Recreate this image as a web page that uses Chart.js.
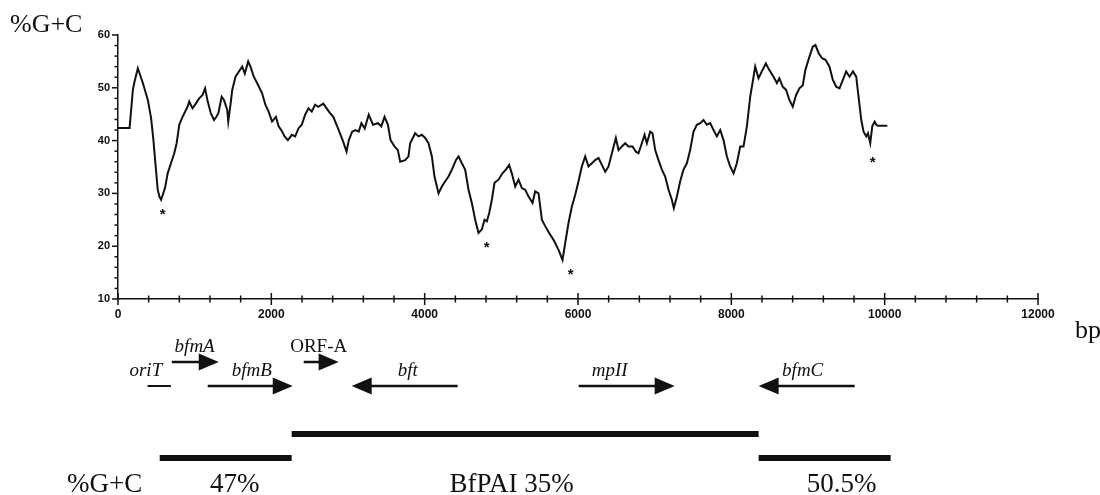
<!DOCTYPE html>
<html>
<head>
<meta charset="utf-8">
<script src="https://cdn.jsdelivr.net/npm/chart.js@4.4.1/dist/chart.umd.min.js"></script>
<style>
	html, body { margin: 0; padding: 0; background: #fff; }
	#wrap { position: relative; width: 1100px; height: 495px; }
</style>
</head>
<body>
<div id="wrap"><canvas id="gcPlot" width="1100" height="495"></canvas></div>
<script>
// %G+C along the sequence (bp).
var positions = [
	0, 151, 194, 216, 259, 324, 389, 432, 462, 488, 518, 540, 562, 583, 613, 648, 691, 734, 765, 799,
	842, 907, 929, 972, 1015, 1058, 1102, 1136, 1166, 1210, 1253, 1283, 1309, 1352, 1382, 1425, 1438, 1469, 1490, 1533,
	1577, 1620, 1654, 1698, 1728, 1771, 1814, 1879, 1922, 1965, 2009, 2060, 2095, 2130, 2173, 2216, 2268, 2311, 2354, 2397,
	2441, 2484, 2527, 2570, 2613, 2678, 2721, 2765, 2808, 2851, 2894, 2937, 2981, 3011, 3054, 3097, 3140, 3175, 3218, 3270,
	3326, 3391, 3434, 3477, 3521, 3555, 3607, 3650, 3681, 3746, 3789, 3811, 3876, 3920, 3963, 4007, 4050, 4094, 4128, 4181,
	4224, 4268, 4311, 4355, 4407, 4442, 4485, 4528, 4572, 4615, 4659, 4702, 4746, 4781, 4811, 4842, 4876, 4911, 4963, 5015,
	5059, 5102, 5137, 5181, 5224, 5268, 5311, 5355, 5407, 5442, 5485, 5529, 5572, 5624, 5681, 5746, 5798, 5833, 5876, 5920,
	5963, 6007, 6050, 6094, 6137, 6181, 6224, 6268, 6311, 6355, 6398, 6442, 6494, 6529, 6572, 6616, 6659, 6711, 6755, 6789,
	6833, 6868, 6898, 6942, 6972, 7007, 7050, 7094, 7137, 7181, 7224, 7250, 7290, 7333, 7376, 7420, 7463, 7507, 7550, 7594,
	7637, 7681, 7724, 7768, 7811, 7855, 7898, 7942, 7985, 8029, 8072, 8116, 8159, 8203, 8246, 8290, 8311, 8355, 8398, 8450,
	8494, 8550, 8594, 8626, 8670, 8714, 8757, 8801, 8844, 8888, 8932, 8966, 9019, 9062, 9097, 9141, 9184, 9228, 9280, 9324,
	9368, 9411, 9455, 9498, 9542, 9586, 9629, 9664, 9695, 9725, 9760, 9782, 9812, 9838, 9869, 9891, 9910, 10035
];
var gcValues = [
	42.4, 42.4, 49.6, 51.2, 53.7, 50.9, 47.7, 44.2, 40.1, 35.7, 30.7, 29.4, 28.8, 29.7, 31.0, 33.8, 35.7, 37.6, 39.5, 43.0,
	44.5, 46.4, 47.4, 46.1, 47.0, 48.0, 48.6, 49.9, 47.7, 45.2, 43.9, 44.5, 45.2, 48.3, 47.7, 45.8, 43.6, 47.0, 49.6, 52.1,
	53.1, 54.0, 52.7, 55.0, 54.0, 52.1, 50.9, 49.0, 46.8, 45.5, 43.6, 44.5, 42.7, 42.0, 40.8, 40.1, 41.1, 40.8, 42.3, 43.0,
	44.9, 46.1, 45.5, 46.8, 46.4, 47.0, 46.1, 45.2, 44.5, 43.0, 41.4, 39.8, 37.9, 40.1, 41.7, 42.0, 41.7, 43.3, 42.3, 44.9,
	43.0, 43.3, 42.7, 44.5, 43.0, 40.1, 38.9, 38.2, 36.0, 36.3, 37.0, 39.5, 41.4, 40.8, 41.1, 40.5, 39.5, 37.0, 33.2, 30.0,
	31.3, 32.3, 33.2, 34.5, 36.3, 37.0, 35.7, 34.5, 30.7, 28.2, 25.0, 22.5, 23.2, 25.0, 24.7, 26.3, 28.8, 32.0, 32.6, 33.8,
	34.5, 35.4, 33.8, 31.3, 32.6, 31.0, 30.7, 29.4, 28.2, 30.4, 30.0, 25.0, 23.8, 22.5, 21.2, 19.3, 17.4, 20.6, 24.4, 27.5,
	29.7, 32.3, 35.1, 37.0, 35.1, 35.7, 36.3, 36.7, 35.4, 34.1, 35.1, 37.6, 40.5, 38.2, 38.9, 39.5, 38.9, 38.9, 37.9, 37.6,
	39.5, 41.1, 39.5, 41.7, 41.4, 38.2, 36.3, 34.5, 33.2, 30.7, 28.8, 27.2, 29.4, 32.3, 34.5, 35.7, 38.2, 41.7, 43.0, 43.3,
	43.9, 43.0, 43.3, 42.0, 40.8, 42.0, 40.1, 37.0, 35.1, 33.8, 35.7, 38.9, 38.9, 42.7, 48.3, 52.1, 54.0, 51.8, 53.1, 54.6,
	53.4, 52.1, 50.9, 51.8, 50.2, 49.6, 47.7, 46.4, 48.6, 49.9, 50.5, 53.4, 55.9, 57.8, 58.1, 56.5, 55.6, 55.3, 54.0, 51.5,
	50.2, 49.9, 51.5, 53.1, 52.1, 53.1, 52.1, 47.7, 43.9, 41.7, 40.8, 41.4, 39.5, 42.7, 43.6, 43.0, 42.8, 42.8
];

var xTickLabels = ['0', '2000', '4000', '6000', '8000', '10000', '12000'];
var yTickLabels = ['10', '20', '30', '40', '50', '60'];

// asterisks under the marked minima
var starPos = [583, 4809, 5904, 9843];
var starGC = [26.5, 20.3, 15.2, 36.4];

// gene map (bp), strand 1 = right, -1 = left, 0 = no arrow
var geneNames = ['oriT', 'bfmA', 'bfmB', 'ORF-A', 'bft', 'mpII', 'bfmC'];
var geneStart = [385, 702, 1170, 2422, 3048, 6009, 8356];
var geneEnd = [690, 1314, 2279, 2878, 4430, 7261, 9609];
var geneStrand = [0, 1, 1, 1, -1, 1, -1];
var geneRow = [1, 0, 1, 0, 1, 1, 1];
var geneLabelAt = [363, 1000, 1746, 2618, 3780, 6413, 8931];

// regions of different %G+C
var regionNames = ['47%', 'BfPAI 35%', '50.5%'];
var regionStart = [544, 2265, 8356];
var regionEnd = [2265, 8356, 10078];
var regionRow = [1, 0, 1];
var regionLabelAt = [1524, 5135, 9440];

var INK = '#111';
var SERIF = '"Liberation Serif", "DejaVu Serif", serif';
var SANS = '"Liberation Sans", Arial, sans-serif';

function line(ctx, x1, y1, x2, y2) {
	ctx.beginPath();
	ctx.moveTo(x1, y1);
	ctx.lineTo(x2, y2);
	ctx.stroke();
}

var mapPlugin = {
	id: 'geneMap',
	afterDraw: function(chart) {
		var ctx = chart.ctx;
		var x = chart.scales.x;
		var y = chart.scales.y;
		var axisY = chart.chartArea.bottom;
		var axisX = chart.chartArea.left;

		ctx.save();
		ctx.strokeStyle = INK;
		ctx.fillStyle = INK;
		ctx.lineWidth = 1.5;

		// tick marks: x ticks cross the axis, y ticks point outward
		x.ticks.forEach(function(t) {
			var px = x.getPixelForValue(t.value);
			var h = (t.value % 2000 === 0) ? 6 : 3.5;
			line(ctx, px, axisY - h, px, axisY + h);
		});
		y.ticks.forEach(function(t) {
			var py = y.getPixelForValue(t.value);
			var w = (t.value % 10 === 0) ? 6 : 3.5;
			line(ctx, axisX - w, py, axisX, py);
		});

		// asterisks
		ctx.font = 'bold 15px ' + SANS;
		ctx.textAlign = 'center';
		ctx.textBaseline = 'middle';
		for (var i = 0; i < starPos.length; i++) {
			ctx.fillText('*', x.getPixelForValue(starPos[i]), y.getPixelForValue(starGC[i]) + 3);
		}

		// gene arrows
		var rowY = [axisY + 63, axisY + 87];
		for (var g = 0; g < geneNames.length; g++) {
			var gy = rowY[geneRow[g]];
			var x1 = x.getPixelForValue(geneStart[g]);
			var x2 = x.getPixelForValue(geneEnd[g]);
			var head = 20, half = 8.5;
			ctx.lineWidth = 2.5;
			if (geneStrand[g] === 1) {
				line(ctx, x1, gy, x2 - head + 2, gy);
				ctx.beginPath();
				ctx.moveTo(x2, gy);
				ctx.lineTo(x2 - head, gy - half);
				ctx.lineTo(x2 - head, gy + half);
				ctx.closePath();
				ctx.fill();
			} else if (geneStrand[g] === -1) {
				line(ctx, x1 + head - 2, gy, x2, gy);
				ctx.beginPath();
				ctx.moveTo(x1, gy);
				ctx.lineTo(x1 + head, gy - half);
				ctx.lineTo(x1 + head, gy + half);
				ctx.closePath();
				ctx.fill();
			} else {
				ctx.lineWidth = 2;
				line(ctx, x1, gy, x2, gy);
			}
			ctx.font = (geneNames[g] === 'ORF-A' ? '' : 'italic ') + '19px ' + SERIF;
			ctx.textBaseline = 'alphabetic';
			ctx.fillText(geneNames[g], x.getPixelForValue(geneLabelAt[g]), gy - 10);
		}

		// %G+C region bars
		var barY = [axisY + 135, axisY + 159];
		ctx.lineWidth = 6;
		ctx.lineCap = 'butt';
		ctx.font = '27px ' + SERIF;
		for (var r = 0; r < regionNames.length; r++) {
			var by = barY[regionRow[r]];
			line(ctx, x.getPixelForValue(regionStart[r]), by, x.getPixelForValue(regionEnd[r]), by);
			ctx.fillText(regionNames[r], x.getPixelForValue(regionLabelAt[r]), axisY + 193);
		}

		// axis titles
		ctx.textAlign = 'left';
		ctx.fillText('%G+C', 67, axisY + 193);
		ctx.font = '26px ' + SERIF;
		ctx.fillText('%G+C', 10, 32);
		ctx.fillText('bp', 1075, 338);
		ctx.restore();
	}
};

var points = positions.map(function(p, i) { return { x: p, y: gcValues[i] }; });

var gcChart = new Chart(document.getElementById('gcPlot'), {
	type: 'line',
	data: {
		datasets: [{
			data: points,
			borderColor: INK,
			borderWidth: 2,
			pointRadius: 0,
			tension: 0,
			fill: false
		}]
	},
	options: {
		responsive: false,
		animation: false,
		layout: { padding: { top: 35, right: 62, left: 0, bottom: 0 } },
		plugins: { legend: { display: false }, tooltip: { enabled: false } },
		scales: {
			x: {
				type: 'linear',
				min: 0,
				max: 12000,
				afterFit: function(s) { s.height = 196; },
				grid: { display: false, drawTicks: false },
				border: { display: true, color: INK, width: 1.5 },
				ticks: {
					stepSize: 400,
					autoSkip: false,
					maxRotation: 0,
					padding: 8,
					color: INK,
					font: { family: SANS, size: 12, weight: 'bold' },
					callback: function(v) { return v % 2000 === 0 ? xTickLabels[v / 2000] : ''; }
				}
			},
			y: {
				min: 10,
				max: 60,
				afterFit: function(s) { s.width = 118; },
				grid: { display: false, drawTicks: false },
				border: { display: true, color: INK, width: 1.5 },
				ticks: {
					stepSize: 2,
					autoSkip: false,
					padding: 8,
					color: INK,
					font: { family: SANS, size: 11, weight: 'bold' },
					callback: function(v) { return v % 10 === 0 ? yTickLabels[(v - 10) / 10] : ''; }
				}
			}
		}
	},
	plugins: [mapPlugin]
});
</script>
</body>
</html>
